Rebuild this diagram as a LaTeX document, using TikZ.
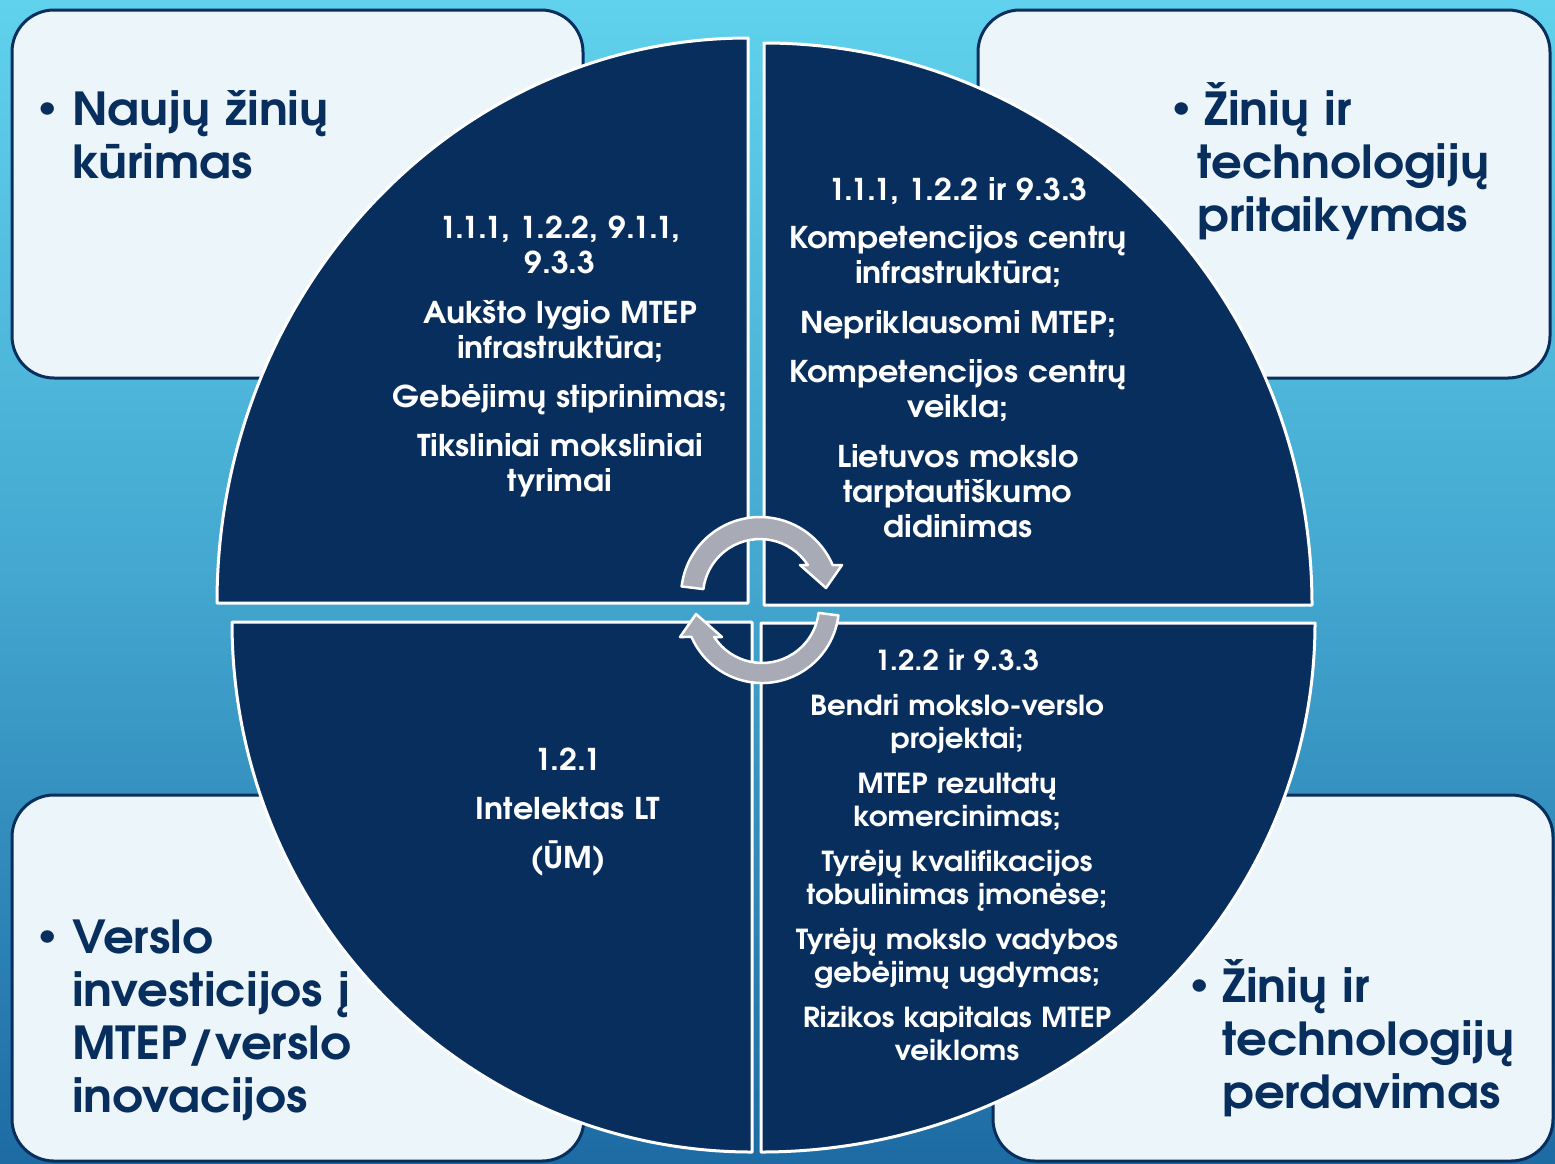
\documentclass[tikz,border=0pt]{standalone}
\usepackage{fontspec}
\setmainfont{TeX Gyre Adventor}[FakeStretch=1.06]
\usepackage{tikz}

\definecolor{navy}{HTML}{082E5E}
\definecolor{bgtop}{HTML}{60D2ED}
\definecolor{bgmid}{HTML}{43A7CF}
\definecolor{bgbot}{HTML}{1E6BA4}
\definecolor{boxfill}{HTML}{ECF6FA}
\definecolor{arrowgray}{HTML}{A8AAB6}

\tikzset{
  cornerbox/.style={draw=navy, line width=3pt, fill=boxfill, rounded corners=42pt},
  sector/.style={fill=navy, draw=white, line width=3pt, line join=round},
  cyclearrow/.style={fill=arrowgray, draw=white, line width=2.5pt, line join=round},
  cornertitle/.style={text=navy, font=\bfseries\fontsize{45.5}{53}\selectfont, align=left, text width=420pt, anchor=base west, inner sep=0pt},
  dotmark/.style={text=navy, font=\bfseries\fontsize{30}{30}\selectfont, inner sep=0pt},
  sectortext/.style={text=white, font=\bfseries\fontsize{30}{35}\selectfont, align=center, text width=440pt, anchor=base, inner sep=0pt},
}

\begin{document}
\begin{tikzpicture}[x=1pt,y=-1pt]
\useasboundingbox (0,0) rectangle (1555,1163);
\shade[top color=bgtop, bottom color=bgbot, middle color=bgmid] (0,0) rectangle (1555,1163);

% corner boxes
\draw[cornerbox] (12,10) rectangle (583,378);
\draw[cornerbox] (978,10) rectangle (1550,378);
\draw[cornerbox] (12,795) rectangle (584,1161);
\draw[cornerbox] (993,795) rectangle (1553,1161);

% four quarters
\draw[sector] (748,603) -- (217,603) arc[start angle=180, end angle=270, x radius=531, y radius=565] -- cycle;
\draw[sector] (764,605) -- (764,43) arc[start angle=270, end angle=360, x radius=548, y radius=562] -- cycle;
\draw[sector] (761,623) -- (1315,623) arc[start angle=0, end angle=90, x radius=554, y radius=529] -- cycle;
\draw[sector] (752,622) -- (752,1152) arc[start angle=90, end angle=180, x radius=520, y radius=530] -- cycle;

% cycle arrows
\draw[cyclearrow] (681.6,586.4) arc[start angle=187, end angle=337, radius=79]
  -- (842,565) -- (826,588) -- (800,565) -- (807.8,565)
  arc[start angle=327, end angle=187, radius=57] -- cycle;
\draw[cyclearrow] (838.4,615.4) arc[start angle=7, end angle=156.3, radius=77]
  -- (680,637) -- (696,614) -- (722,637) -- (714.2,637)
  arc[start angle=147, end angle=7, radius=57] -- cycle;

% corner titles
\node[dotmark] (dot1) at (48,110) {\textbullet};
\node[cornertitle] (newknowledge) at (72,125) {Naujų žinių\\kūrimas};
\node[dotmark] (dot2) at (1182,110) {\textbullet};
\node[cornertitle] (adoption) at (1197,125) {\hspace{7pt}Žinių ir\\technologijų\\pritaikymas};
\node[dotmark] (dot3) at (48,938) {\textbullet};
\node[cornertitle] (investment) at (72,953) {Verslo\\investicijos į\\MTEP/verslo\\inovacijos};
\node[dotmark] (dot4) at (1200,987) {\textbullet};
\node[cornertitle] (transfer) at (1222,1002) {Žinių ir\\technologijų\\perdavimas};

% quarter texts
\node[sectortext] (tlitems) at (560,238) {1.1.1, 1.2.2, 9.1.1,\\9.3.3\\[15pt]
  Aukšto lygio MTEP\\infrastruktūra;\\[14pt]
  Gebėjimų stiprinimas;\\[14pt]
  Tiksliniai moksliniai\\tyrimai};
\node[sectortext] (tritems) at (958,200) {1.1.1, 1.2.2 ir 9.3.3\\[13pt]
  Kompetencijos centrų\\infrastruktūra;\\[15pt]
  Nepriklausomi MTEP;\\[14pt]
  Kompetencijos centrų\\veikla;\\[15pt]
  Lietuvos mokslo\\tarptautiškumo\\didinimas};
\node[sectortext, font=\bfseries\fontsize{27.6}{33}\selectfont] (britems) at (957,670) {1.2.2 ir 9.3.3\\[12pt]
  Bendri mokslo-verslo\\projektai;\\[12pt]
  MTEP rezultatų\\komercinimas;\\[12pt]
  Tyrėjų kvalifikacijos\\tobulinimas įmonėse;\\[12pt]
  Tyrėjų mokslo vadybos\\gebėjimų ugdymas;\\[12pt]
  Rizikos kapitalas MTEP\\veikloms};
\node[sectortext] (blitems) at (568,770) {1.2.1\\[14pt]
  Intelektas LT\\[14pt]
  (ŪM)};
\end{tikzpicture}
\end{document}
